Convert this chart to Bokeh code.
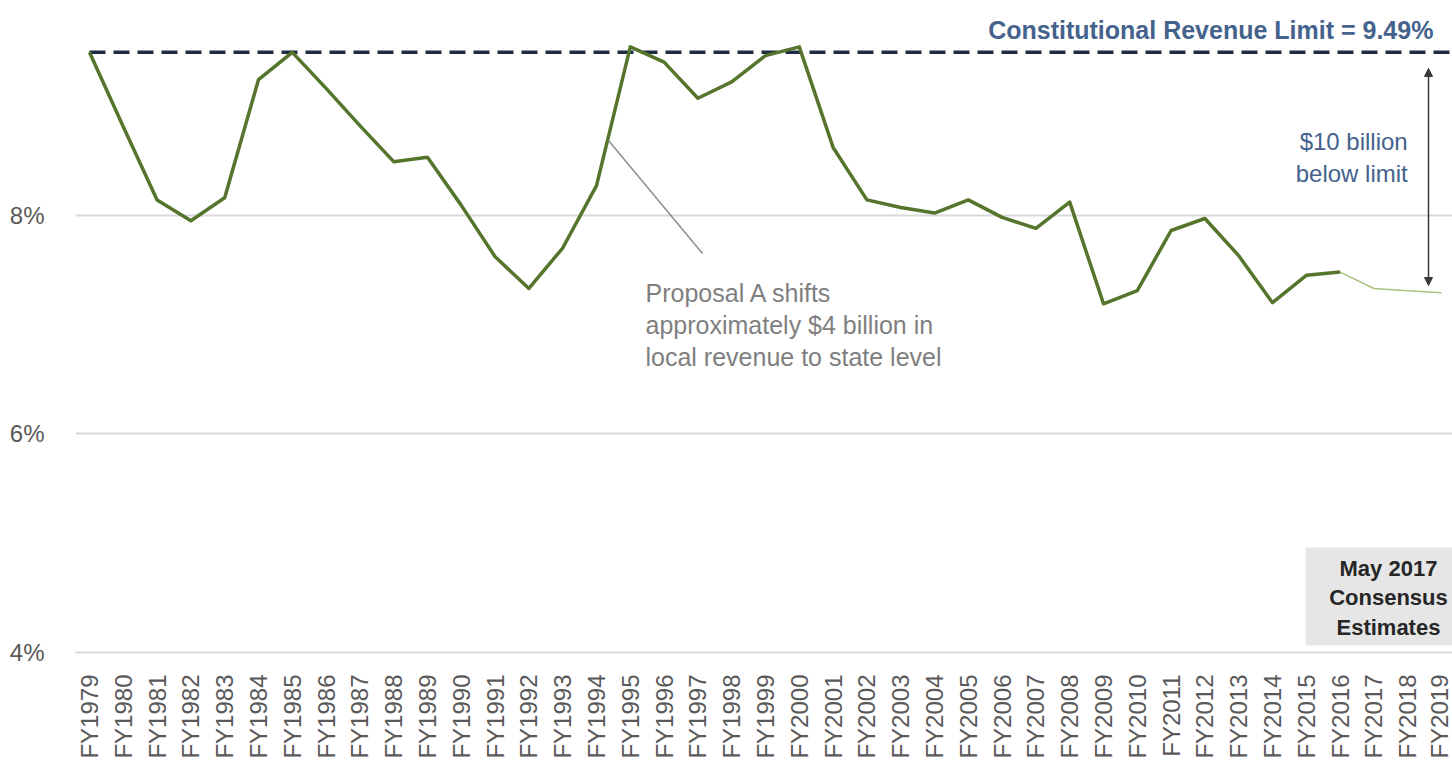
import math
from bokeh.plotting import figure
from bokeh.models import FixedTicker, Range1d, Arrow, NormalHead
from bokeh.core.properties import value
from bokeh.embed import file_html
from bokeh.resources import INLINE

# ---------------- data ----------------
years_actual = list(range(1979, 2017))
revenue_actual = [9.49, 8.81, 8.14, 7.95, 8.16, 9.24, 9.49, 9.16, 8.82, 8.49,
                  8.53, 8.09, 7.62, 7.33, 7.70, 8.27, 9.54, 9.40, 9.07, 9.22,
                  9.46, 9.54, 8.62, 8.14, 8.07, 8.02, 8.14, 7.98, 7.88, 8.12,
                  7.19, 7.31, 7.86, 7.97, 7.63, 7.20, 7.45, 7.48]
years_forecast = [2016, 2017, 2018, 2019]
revenue_forecast = [7.48, 7.33, 7.31, 7.29]
limit = 9.49
all_years = list(range(1979, 2020))
y_ticks = [4, 6, 8, 10]
y_tick_labels = {4: "4%", 6: "6%", 8: "8%", 10: "10%"}
x_tick_labels = {y: f"FY{y}" for y in all_years}

limit_label = "Constitutional Revenue Limit = 9.49%"
gap_label = ["$10 billion", "below limit"]
proposal_label = ["Proposal A shifts", "approximately $4 billion in", "local revenue to state level"]
box_label = ["May 2017", "Consensus", "Estimates"]

FONT = "Liberation Sans"

p = figure(width=1452, height=761, output_backend="svg", toolbar_location=None,
           x_range=Range1d(1978.586, 2019.325), y_range=Range1d(4, 9.9),
           min_border_left=75, min_border_right=0, min_border_top=7, min_border_bottom=109)
p.outline_line_color = None
p.background_fill_color = "white"
p.border_fill_color = "white"

# axes
p.xaxis.ticker = FixedTicker(ticks=all_years)
p.xaxis.major_label_overrides = x_tick_labels
p.xaxis.major_label_orientation = math.pi / 2
p.xaxis.major_label_text_font = FONT
p.xaxis.major_label_text_font_size = "24px"
p.xaxis.major_label_text_color = "#595959"
p.xaxis.major_label_standoff = 16
p.xaxis.major_tick_line_color = None
p.xaxis.minor_tick_line_color = None
p.xaxis.axis_line_color = "#d9d9d9"
p.xaxis.axis_line_width = 2

p.yaxis.ticker = FixedTicker(ticks=y_ticks)
p.yaxis.major_label_overrides = y_tick_labels
p.yaxis.major_label_text_font = FONT
p.yaxis.major_label_text_font_size = "24px"
p.yaxis.major_label_text_color = "#595959"
p.yaxis.major_label_standoff = 25
p.yaxis.major_tick_line_color = None
p.yaxis.minor_tick_line_color = None
p.yaxis.axis_line_color = None

p.xgrid.grid_line_color = None
p.ygrid.grid_line_color = "#d9d9d9"
p.ygrid.grid_line_width = 2

# estimates box
p.quad(left=[2014.98], right=[2019.6], bottom=[4.064], top=[4.96],
       fill_color="#e6e6e6", line_color=None)
p.text(x=[2017.43] * 3, y=[4.768, 4.503, 4.229], text=box_label,
       text_font=value(FONT), text_font_style="bold", text_font_size="22px",
       text_color="#262626", text_align="center", text_baseline="middle")

# limit line
p.line([all_years[0], all_years[-1] + 0.3], [limit, limit], line_color="#1f2d42",
       line_width=3.5, line_dash="16 8")

# series
p.line(years_forecast, revenue_forecast, line_color="#a9c27f", line_width=1.5)
p.line(years_actual, revenue_actual, line_color="#56752c", line_width=3.5,
       line_join="round")

# gap arrow
p.add_layout(Arrow(x_start=2018.615, y_start=7.357, x_end=2018.615, y_end=9.342,
                   line_color="#3a3a3a", line_width=1.5,
                   start=NormalHead(size=8, fill_color="#3a3a3a", line_color="#3a3a3a"),
                   end=NormalHead(size=8, fill_color="#3a3a3a", line_color="#3a3a3a")))

# texts
p.text(x=[2018.76], y=[9.69], text=[limit_label], text_font=value(FONT),
       text_font_style="bold", text_font_size="25px", text_color="#44628c",
       text_align="right", text_baseline="middle")
p.text(x=[2018.0, 2018.0], y=[8.674, 8.381], text=gap_label, text_font=value(FONT),
       text_font_size="24px", text_color="#44628c", text_align="right",
       text_baseline="middle")

# proposal A annotation
p.line([1994.355, 1997.136], [8.683, 7.65], line_color="#8c8c8c", line_width=1.5)
p.text(x=[1995.45] * 3, y=[7.293, 7.0, 6.707], text=proposal_label,
       text_font=value(FONT), text_font_size="25px", text_color="#7f7f7f",
       text_align="left", text_baseline="middle")

open("out.html", "w").write(file_html(p, INLINE))
